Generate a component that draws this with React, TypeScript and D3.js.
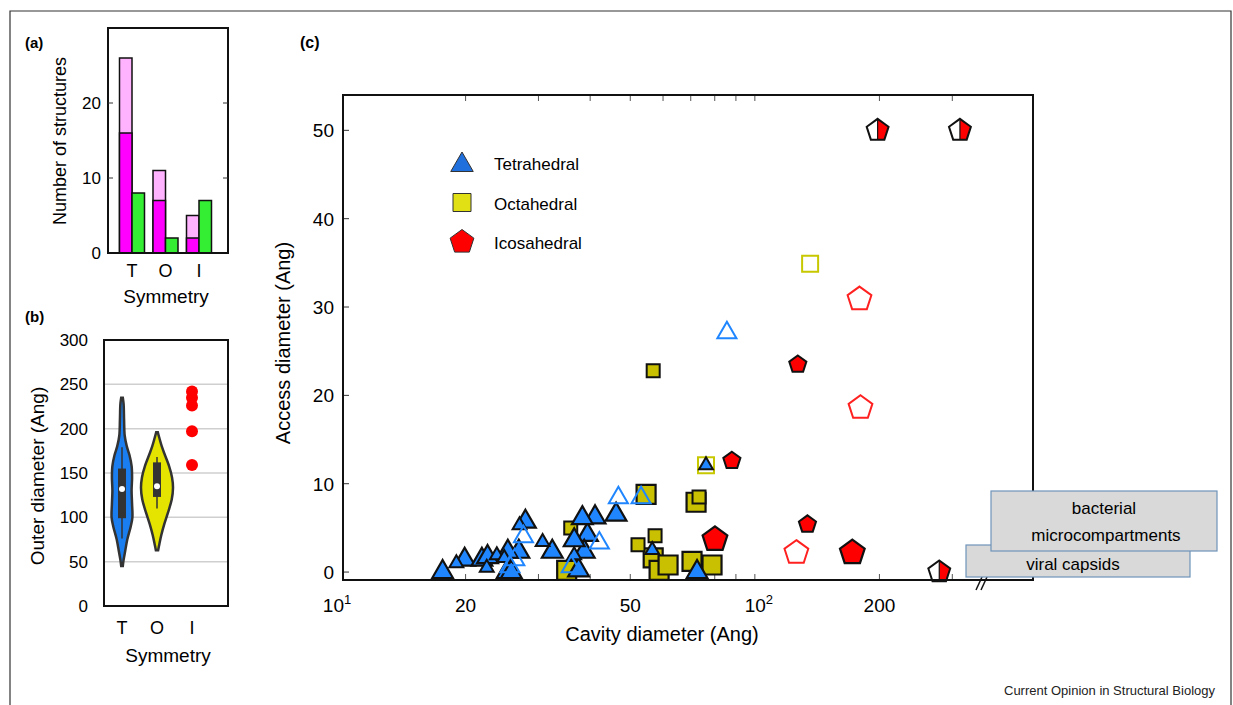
import * as d3 from "d3";

const FONT = "'Liberation Sans', Arial, Helvetica, sans-serif";

// ---------- (a) number of structures per symmetry ----------
const symmetry = ["T", "O", "I"];
const totalCounts = [26, 11, 5];
const darkCounts = [16, 7, 2];
const greenCounts = [8, 2, 7];
const countTicks = [0, 10, 20];

// ---------- (b) outer diameter ----------
const outerTicks = [0, 50, 100, 150, 200, 250, 300];
const tViolinY = [45, 52, 62, 75, 90, 100, 115, 130, 145, 158, 170, 180, 192, 210, 228, 235];
const tViolinD = [0.05, 0.1, 0.2, 0.33, 0.55, 0.65, 0.63, 0.6, 0.63, 0.6, 0.47, 0.3, 0.17, 0.13, 0.1, 0.05];
const oViolinY = [63, 70, 80, 92, 105, 120, 133, 145, 158, 170, 180, 190, 196];
const oViolinD = [0.07, 0.15, 0.27, 0.45, 0.68, 0.92, 1.0, 0.94, 0.75, 0.5, 0.3, 0.14, 0.05];
const tBox = [99, 155];
const tWhisker = [76, 179];
const tMedian = 132;
const oBox = [123, 162];
const oWhisker = [110, 168];
const oMedian = 135;
const icoOuter = [242, 235, 226, 197, 159];

// ---------- (c) access vs cavity diameter ----------
const accessTicks = [0, 10, 20, 30, 40, 50];
const cavityLabels = [20, 50, 200];
const cavityMinor = [20, 30, 40, 50, 60, 70, 80, 90, 100, 200, 300];

const tetLarge = [
  [17.6, 0], [19.9, 1.4], [21.9, 1.4], [22.6, 1.7], [26.9, 2.3], [27.9, 5.7],
  [32.4, 2.3], [41.1, 6.2], [39.4, 4.2], [38.7, 2.3], [37.5, 0.2], [46.2, 6.5], [72.5, 0],
  [25.3, 2.3], [25.2, 0], [25.8, 0], [36.6, 3.6], [38.3, 6.1],
];
const tetSmall = [
  [19.0, 1.0], [22.5, 0.5], [23.8, 1.9], [24.8, 1.6], [27.0, 5.3], [30.7, 3.4],
  [36.6, 1.9], [56.5, 2.5], [76.2, 12.1],
];
const tetOpen = [
  [27.6, 4.0], [26.3, 1.4], [25.6, 0.6], [42.1, 3.3], [46.8, 8.4], [53.1, 8.4], [85.6, 27.1], [36.0, 0.6],
];
const octLarge = [
  [35.1, 0.2], [54.6, 8.8], [72.1, 7.9], [56.8, 1.6], [58.7, 0.2], [61.7, 0.8], [70.5, 1.2], [78.8, 0.8],
];
const octSmall = [
  [35.9, 5.0], [56.8, 22.8], [73.3, 8.5], [52.2, 3.1], [57.4, 4.1],
];
const octOpen = [[136, 34.9], [76.2, 12.1]];
const icoLarge = [[80.1, 3.7], [172, 2.2]];
const icoSmall = [[88.0, 12.6], [127, 23.5], [134, 5.4], [74.5, 0.6]];
const icoOpen = [[179, 30.9], [180, 18.6], [126, 2.2]];
const icoHalf = [[198, 50], [313, 50], [279, 0]];

const legendItems = ["Tetrahedral", "Octahedral", "Icosahedral"];

const BLUE = "#1f86ff";
const OLIVE = "#c8c000";

const triPath = (r: number) => {
  const h = r * Math.sin(Math.PI / 3);
  return `M0,${-r}L${h},${r / 2}L${-h},${r / 2}Z`;
};
const sqPath = (s: number) => `M${-s / 2},${-s / 2}h${s}v${s}h${-s}Z`;
const pentPts = (r: number) =>
  d3.range(5).map((i) => {
    const a = -Math.PI / 2 + (i * 2 * Math.PI) / 5;
    return [r * Math.cos(a), r * Math.sin(a)];
  });
const pentPath = (r: number) => "M" + pentPts(r).map((p) => p.join(",")).join("L") + "Z";
const halfPentPath = (r: number) => {
  const p = pentPts(r);
  return `M${p[0][0]},${p[0][1]}L${p[1][0]},${p[1][1]}L${p[2][0]},${p[2][1]}L0,${p[2][1]}Z`;
};

const App = () => {
  // (a)
  const ya = d3.scaleLinear().domain([0, 30]).range([253, 28]);
  const xa = d3.scalePoint().domain(symmetry).range([132, 199]);
  const bw = 12.5;

  // (b)
  const yb = d3.scaleLinear().domain([0, 300]).range([606, 340]);
  const xb = d3.scalePoint().domain(symmetry).range([122, 192]).padding(0);
  const wb = d3.scaleLinear().domain([0, 1]).range([0, 16]);
  const violin = (cx: number, ys: number[], ds: number[]) =>
    d3
      .area<number>()
      .y((_, i) => yb(ys[i]))
      .x0((_, i) => cx - wb(ds[i]))
      .x1((_, i) => cx + wb(ds[i]))
      .curve(d3.curveCatmullRom)(ys) as string;

  // (c)
  const xc = d3.scaleLog().domain([10, 470]).range([341, 1033]);
  const yc = d3.scaleLinear().domain([-0.9, 54]).range([580, 95]);
  const L = 343, R = 1033, T = 95, B = 580;

  const marks = (
    pts: number[][],
    d: string,
    fill: string,
    stroke: string,
    sw: number
  ) =>
    pts.map((p, i) => (
      <path
        key={i}
        d={d}
        transform={`translate(${xc(p[0])},${yc(p[1])})`}
        fill={fill}
        stroke={stroke}
        strokeWidth={sw}
        strokeLinejoin="miter"
      />
    ));

  return (
    <svg
      width={1233}
      height={705}
      style={{ position: "absolute", left: 0, top: 0, background: "#fff" }}
      fontFamily={FONT}
    >
      {/* outer frame */}
      <path d="M10,705V11H1231V705" fill="none" stroke="#333" strokeWidth={1.2} />

      {/* ---------------- (a) ---------------- */}
      <text x={25} y={48} fontSize={15} fontWeight="bold">(a)</text>
      {symmetry.map((s, i) => (
        <g key={s}>
          <rect x={xa(s)! - bw} y={ya(totalCounts[i])} width={bw} height={ya(0) - ya(totalCounts[i])} fill="#ffb3ff" stroke="#111" strokeWidth={1.5} />
          <rect x={xa(s)! - bw} y={ya(darkCounts[i])} width={bw} height={ya(0) - ya(darkCounts[i])} fill="#ff00ff" stroke="#111" strokeWidth={1.5} />
          <rect x={xa(s)!} y={ya(greenCounts[i])} width={bw} height={ya(0) - ya(greenCounts[i])} fill="#33ee33" stroke="#111" strokeWidth={1.5} />
          <text x={xa(s)} y={277} fontSize={18} textAnchor="middle">{s}</text>
        </g>
      ))}
      <rect x={108} y={28} width={120} height={225} fill="none" stroke="#111" strokeWidth={2} />
      {countTicks.map((t) => (
        <g key={t}>
          <text x={101} y={ya(t) + 6} fontSize={17} textAnchor="end">{t}</text>
          {t > 0 && <line x1={108} x2={113} y1={ya(t)} y2={ya(t)} stroke="#333" />}
          {t > 0 && <line x1={223} x2={228} y1={ya(t)} y2={ya(t)} stroke="#333" />}
        </g>
      ))}
      <text transform="translate(66,141) rotate(-90)" fontSize={18} textAnchor="middle">Number of structures</text>
      <text x={166} y={303} fontSize={19} textAnchor="middle">Symmetry</text>

      {/* ---------------- (b) ---------------- */}
      <text x={25} y={322} fontSize={15} fontWeight="bold">(b)</text>
      {outerTicks.map((t) => (
        <g key={t}>
          {t > 0 && t < 300 && <line x1={104} x2={228} y1={yb(t)} y2={yb(t)} stroke="#cfcfcf" strokeWidth={1.5} />}
          <text x={88} y={yb(t) + 6} fontSize={17} textAnchor="end">{t}</text>
        </g>
      ))}
      <path d={violin(xb("T")!, tViolinY, tViolinD)} fill="#1a7ef0" stroke="#333" strokeWidth={2.5} />
      <line x1={xb("T")} x2={xb("T")} y1={yb(tWhisker[0])} y2={yb(tWhisker[1])} stroke="#333" strokeWidth={1.5} />
      <line x1={xb("T")} x2={xb("T")} y1={yb(tBox[0])} y2={yb(tBox[1])} stroke="#333" strokeWidth={8} />
      <circle cx={xb("T")} cy={yb(tMedian)} r={3} fill="#fff" />
      <path d={violin(157, oViolinY, oViolinD)} fill="#e4e400" stroke="#333" strokeWidth={2.5} />
      <line x1={157} x2={157} y1={yb(oWhisker[0])} y2={yb(oWhisker[1])} stroke="#333" strokeWidth={1.5} />
      <line x1={157} x2={157} y1={yb(oBox[0])} y2={yb(oBox[1])} stroke="#333" strokeWidth={8} />
      <circle cx={157} cy={yb(oMedian)} r={3} fill="#fff" />
      {icoOuter.map((v, i) => (
        <circle key={i} cx={xb("I")} cy={yb(v)} r={6} fill="#ff0000" />
      ))}
      <rect x={104} y={340} width={124} height={266} fill="none" stroke="#111" strokeWidth={2} />
      {symmetry.map((s, i) => (
        <text key={s} x={[122, 157, 192][i]} y={634} fontSize={18} textAnchor="middle">{s}</text>
      ))}
      <text x={168} y={662} fontSize={19} textAnchor="middle">Symmetry</text>
      <text transform="translate(44,476) rotate(-90)" fontSize={19} textAnchor="middle">Outer diameter (Ang)</text>

      {/* ---------------- (c) ---------------- */}
      <text x={300} y={48} fontSize={16} fontWeight="bold">(c)</text>
      {accessTicks.map((t) => (
        <g key={t}>
          <line x1={L} x2={L + 6} y1={yc(t)} y2={yc(t)} stroke="#333" />
          <text x={334} y={yc(t) + 7} fontSize={19} textAnchor="end">{t}</text>
        </g>
      ))}
      {cavityMinor.map((t) => (
        <g key={t}>
          <line x1={xc(t)} x2={xc(t)} y1={B} y2={B - 6} stroke="#555" />
          <line x1={xc(t)} x2={xc(t)} y1={T} y2={T + 6} stroke="#555" />
        </g>
      ))}
      {cavityLabels.map((t) => (
        <text key={t} x={xc(t)} y={612} fontSize={19} textAnchor="middle">{t}</text>
      ))}
      <text x={xc(10) - 4} y={612} fontSize={19} textAnchor="middle">
        10<tspan dy={-8} fontSize={13}>1</tspan>
      </text>
      <text x={xc(100) + 4} y={612} fontSize={19} textAnchor="middle">
        10<tspan dy={-8} fontSize={13}>2</tspan>
      </text>
      <text x={662} y={641} fontSize={20} textAnchor="middle">Cavity diameter (Ang)</text>
      <text transform="translate(290,343) rotate(-90)" fontSize={20} textAnchor="middle">Access diameter (Ang)</text>

      {/* markers */}
      {marks(icoSmall, pentPath(9), "#ff0000", "#111", 2)}
      {marks(icoLarge, pentPath(13), "#ff0000", "#111", 2.2)}
      {marks(icoOpen, pentPath(12.5), "#fff", "#ff2020", 2)}
      {marks(octLarge, sqPath(19), OLIVE, "#111", 2.2)}
      {marks(octSmall, sqPath(13), OLIVE, "#111", 2)}
      {marks(octOpen, sqPath(16), "none", "#c8c800", 2)}
      {marks(tetLarge, triPath(12), BLUE, "#111", 2.2)}
      {marks(tetSmall, triPath(8), BLUE, "#111", 2)}
      {marks(tetOpen, triPath(11), "none", BLUE, 2)}
      {icoHalf.map((p, i) => (
        <g key={i} transform={`translate(${xc(p[0])},${yc(p[1])})`}>
          <path d={pentPath(11.5)} fill="#fff" />
          <path d={halfPentPath(11.5)} fill="#ff0000" />
          <line x1={0} x2={0} y1={-11.5} y2={9.3} stroke="#111" strokeWidth={1.2} />
          <path d={pentPath(11.5)} fill="none" stroke="#111" strokeWidth={2} />
        </g>
      ))}

      {/* plot frame */}
      <path d={`M${L},${T}H${R}V${B}H${L}Z`} fill="none" stroke="#111" strokeWidth={2} />
      <line x1={976} x2={982} y1={590} y2={577} stroke="#111" strokeWidth={1.5} />
      <line x1={981} x2={987} y1={590} y2={577} stroke="#111" strokeWidth={1.5} />

      {/* legend */}
      {legendItems.map((name, i) => {
        const y = 163 + i * 39.5;
        const d = i === 0 ? triPath(13) : i === 1 ? sqPath(18) : pentPath(12.5);
        const fill = i === 0 ? "#1f6fdc" : i === 1 ? "#e0e014" : "#ff0000";
        return (
          <g key={name}>
            <path d={d} transform={`translate(462,${y + (i === 0 ? 2 : 0)})`} fill={fill} stroke="#333" strokeWidth={1} />
            <text x={494} y={y + 7} fontSize={17}>{name}</text>
          </g>
        );
      })}

      {/* annotation boxes */}
      <rect x={966} y={545} width={224} height={32} fill="#d9d9d9" stroke="#6f93b8" strokeWidth={1.2} />
      <text x={1073} y={570} fontSize={17} textAnchor="middle">viral capsids</text>
      <rect x={991} y={491} width={226} height={60} fill="#d9d9d9" stroke="#6f93b8" strokeWidth={1.2} />
      <text x={1104} y={514} fontSize={17} textAnchor="middle">bacterial</text>
      <text x={1106} y={541} fontSize={17} textAnchor="middle">microcompartments</text>

      <text x={1215} y={695} fontSize={13} textAnchor="end" fill="#222">Current Opinion in Structural Biology</text>
    </svg>
  );
};

export default App;
